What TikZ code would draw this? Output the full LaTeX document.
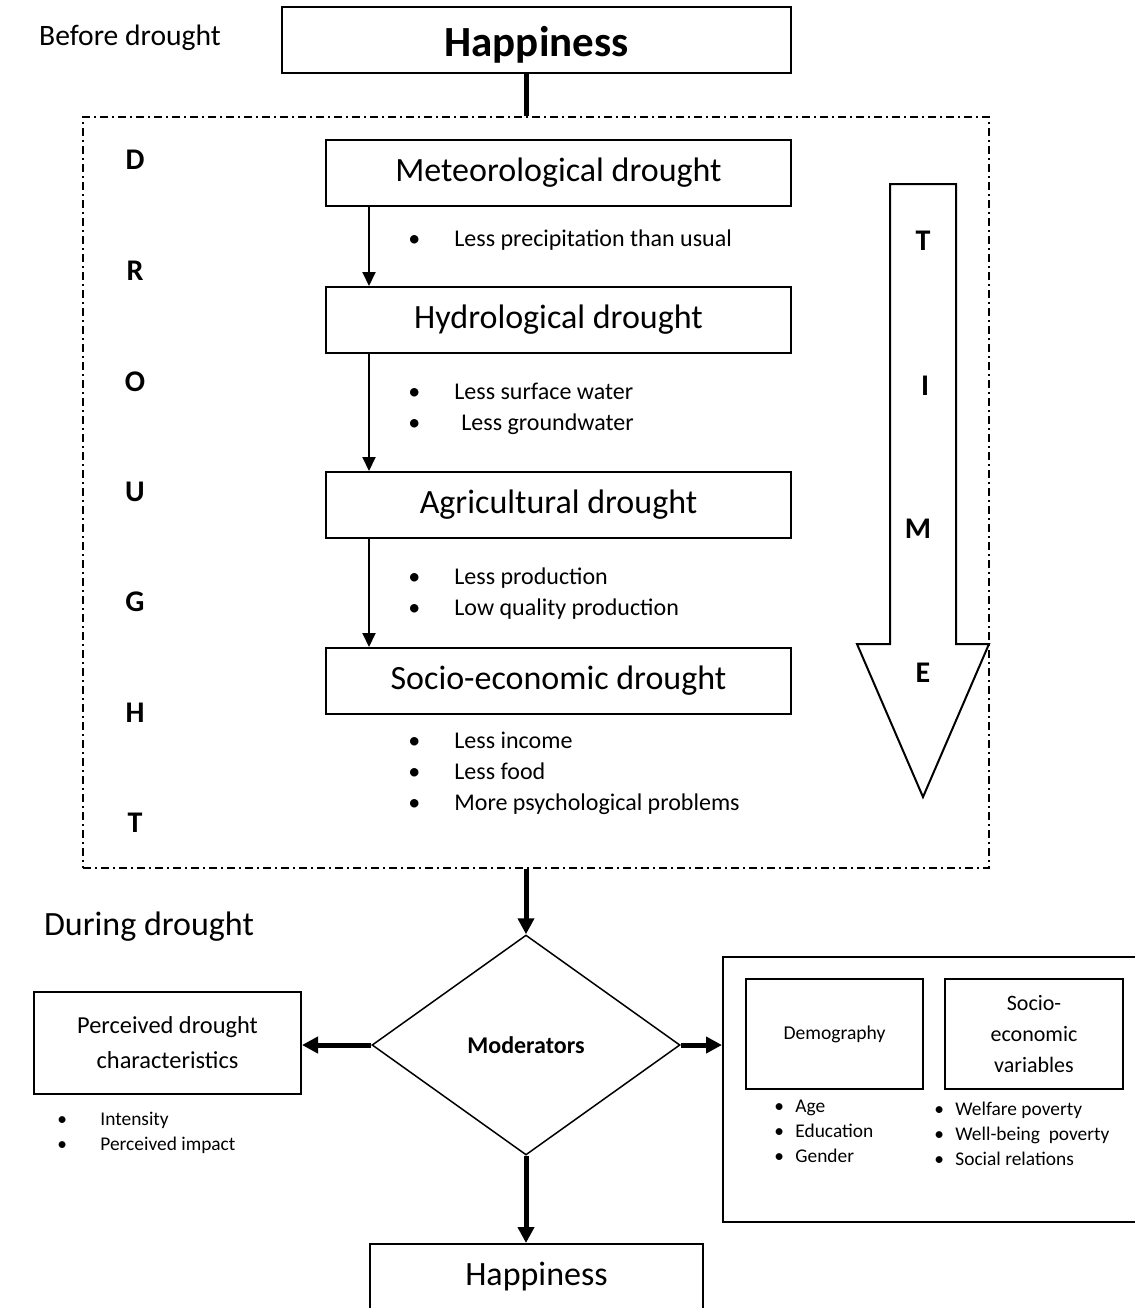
\documentclass[tikz,border=0pt]{standalone}
\usepackage{fontspec}
\setmainfont{Carlito}
\usetikzlibrary{arrows.meta,shapes.geometric}

\newcommand{\bul}[1]{\makebox[#1][l]{\textbullet}}

\begin{document}
\begin{tikzpicture}[x=0.5pt,y=-0.5pt,
    box/.style={draw,line width=1pt,inner sep=0pt,align=center},
    stagebox/.style={box,minimum width=232.5pt,minimum height=33pt,font=\fontsize{17}{20}\selectfont},
    frame/.style={draw,line width=0.9pt,inner sep=0pt,dash pattern=on 4pt off 2pt on 1pt off 2pt},
    thin arrow/.style={line width=1pt,-{Triangle[length=7pt,width=6.5pt]}},
    thick arrow/.style={line width=2.5pt,-{Triangle[length=8pt,width=8pt]}},
    letter/.style={font=\fontsize{15}{17}\selectfont\bfseries},
    item/.style={anchor=west,align=left,inner sep=0pt,font=\fontsize{12}{15.5}\selectfont},
    smallitem/.style={anchor=west,align=left,inner sep=0pt,font=\fontsize{9.7}{12.5}\selectfont}]

  \useasboundingbox (0,0) rectangle (1135,1308);

  % before drought
  \node[font=\fontsize{14.8}{18}\selectfont] (before) at (130,38) {Before drought};
  \node[box,minimum width=254.5pt,minimum height=33pt,text height=18pt,text depth=2pt,
    font=\fontsize{21.5}{26}\selectfont\bfseries] (hap0) at (536.5,40) {Happiness};

  % drought stages
  \node[frame,minimum width=453pt,minimum height=375.5pt] (frame) at (536,492.5) {};
  \node[stagebox] (met) at (558.5,173) {Meteorological drought};
  \node[stagebox] (hyd) at (558.5,320) {Hydrological drought};
  \node[stagebox] (agr) at (558.5,505) {Agricultural drought};
  \node[stagebox] (soc) at (558.5,681) {Socio-economic drought};

  \draw[thin arrow] ([xshift=22pt]met.south west) -- ([xshift=22pt]hyd.north west);
  \draw[thin arrow] ([xshift=22pt]hyd.south west) -- ([xshift=22pt]agr.north west);
  \draw[thin arrow] ([xshift=22pt]agr.south west) -- ([xshift=22pt]soc.north west);

  \node[item] (metitems) at (408,240) {\bul{23pt}Less precipitation than usual};
  \node[item] (hyditems) at (408,408.5) {\bul{23pt}Less surface water\\\bul{23pt}\hspace{3.5pt}Less groundwater};
  \node[item] (agritems) at (408,593.5) {\bul{23pt}Less production\\\bul{23pt}Low quality production};
  \node[item] (socitems) at (408,773.5) {\bul{23pt}Less income\\\bul{23pt}Less food\\\bul{23pt}More psychological problems};

  \foreach \l/\y in {D/160,R/271,O/382,U/492,G/602,H/713,T/823}
    \node[letter] (drought\l) at (135,\y) {\l};

  % time arrow
  \draw[line width=1pt] (890,184) -- (956,184) -- (956,644) -- (989,644) -- (923,797)
    -- (857,644) -- (890,644) -- cycle;
  \foreach \l/\x/\y in {T/923/241,I/925/386,M/918/529,E/923/673}
    \node[letter] (time\l) at (\x,\y) {\l};

  % during drought
  \node[font=\fontsize{17}{20}\selectfont] (during) at (149,927) {During drought};
  \node[draw,diamond,line width=0.75pt,inner sep=0pt,minimum width=154pt,minimum height=110pt,
    font=\fontsize{12}{14}\selectfont\bfseries] (mod) at (526,1045) {Moderators};
  \node[box,minimum width=133.5pt,minimum height=51pt,font=\fontsize{12.2}{17.5}\selectfont] (perc) at (167.5,1043)
    {Perceived drought\\characteristics};
  \node[smallitem] (percitems) at (57,1133) {\bul{21.5pt}Intensity\\\bul{21.5pt}Perceived impact};

  \node[box,minimum width=207.5pt,minimum height=132.5pt] (outer) at (930.5,1089.5) {};
  \node[box,minimum width=88.5pt,minimum height=55pt,font=\fontsize{9.8}{12}\selectfont] (demo) at (834.5,1034)
    {Demography};
  \node[box,minimum width=89pt,minimum height=55pt,font=\fontsize{11}{15.5}\selectfont] (socvar) at (1034,1034)
    {Socio-\\economic\\variables};
  \node[smallitem] (demoitems) at (774,1131) {\bul{10.5pt}Age\\\bul{10.5pt}Education\\\bul{10.5pt}Gender};
  \node[smallitem] (socvaritems) at (934,1134) {\bul{10.5pt}Welfare poverty\\\bul{10.5pt}Well-being\ \ poverty\\\bul{10.5pt}Social relations};

  \node[box,minimum width=166.5pt,minimum height=33pt,font=\fontsize{17}{20}\selectfont] (hap1) at (536.5,1277) {Happiness};

  % connectors
  \draw[line width=2.5pt] (mod.north |- hap0.south) -- (mod.north |- frame.north);
  \draw[thick arrow] (mod.north |- frame.south) -- (mod.north);
  \draw[thick arrow] (mod.west) -- (mod.west -| perc.east);
  \draw[thick arrow] (mod.east) -- (mod.east -| outer.west);
  \draw[thick arrow] (mod.south) -- (mod.south |- hap1.north);
\end{tikzpicture}
\end{document}
